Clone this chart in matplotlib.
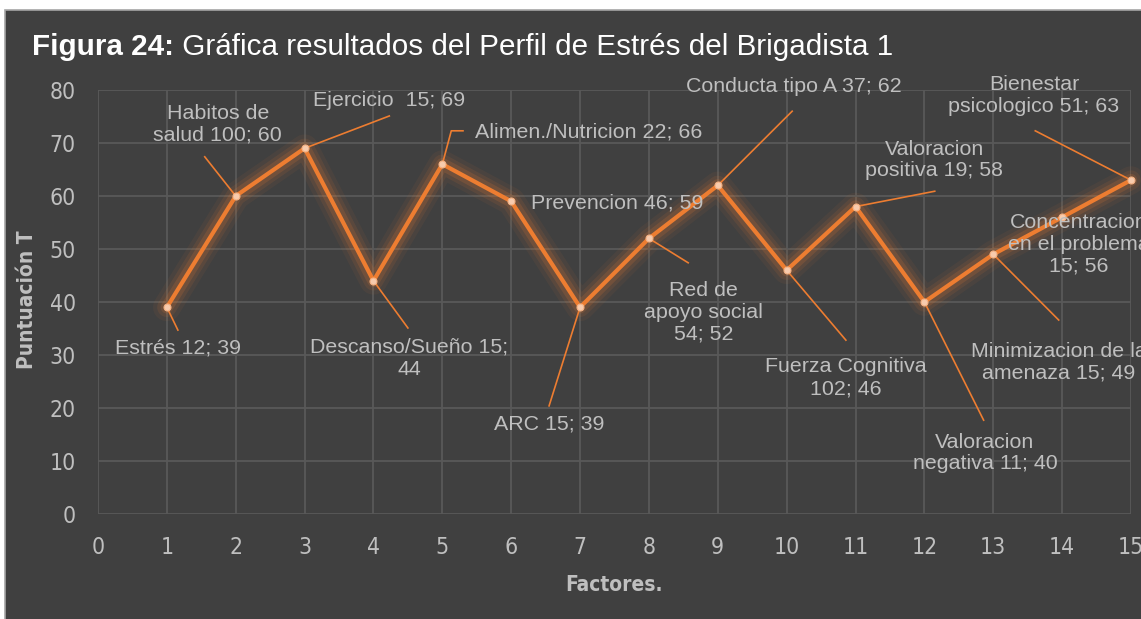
import matplotlib.pyplot as plt
from matplotlib.patches import Rectangle

# datos del perfil de estres
factores = list(range(1, 16))
puntuacion = [39, 60, 69, 44, 66, 59, 39, 52, 62, 46, 58, 40, 49, 56, 63]
etiquetas = [
    "Estrés 12; 39", "Habitos de\nsalud 100; 60", "Ejercicio  15; 69",
    "Descanso/Sueño 15;\n44", "Alimen./Nutricion 22; 66", "Prevencion 46; 59",
    "ARC 15; 39", "Red de\napoyo social\n54; 52", "Conducta tipo A 37; 62",
    "Fuerza Cognitiva\n102; 46", "Valoracion\npositiva 19; 58",
    "Valoracion\nnegativa 11; 40", "Minimizacion de la\namenaza 15; 49",
    "Concentracion\nen el problema\n15; 56", "Bienestar\npsicologico 51; 63",
]
x_ticks = list(range(0, 16))
y_ticks = list(range(0, 81, 10))

# posicion de cada etiqueta y de las lineas guia (layout)
pos_etiqueta = [(1.16, 31.3), (1.74, 73.6), (4.23, 78.1), (4.52, 29.4), (7.12, 72.1),
                (7.54, 58.7), (6.55, 17.0), (8.79, 38.1), (10.11, 80.6), (10.86, 25.7),
                (12.14, 66.8), (12.88, 11.5), (13.95, 28.7), (14.24, 50.9), (13.59, 78.9)]
guias = [[(1.16, 34.7)], [(1.55, 67.4)], [(4.23, 75.1)], [(4.50, 35.1)],
         [(5.13, 72.3), (5.30, 72.3)], [], [(6.55, 20.4)], [(8.57, 47.4)],
         [(10.08, 76.0)], [(10.86, 32.8)], [(12.15, 60.9)], [(12.86, 17.7)],
         [(13.95, 36.6)], [], [(13.61, 72.3)]]

BG = '#404040'
GRID = '#595959'
TXT = '#BFBFBF'
ORANGE = '#ED7D31'
NARROW = ['DejaVu Sans']
SANS = ['Liberation Sans', 'DejaVu Sans']

fig = plt.figure(figsize=(11.41, 6.19), dpi=100, facecolor='white')
fondo = Rectangle((5 / 1141, -0.1), 1.1, 1 - 10 / 619 + 0.1,
                  transform=fig.transFigure, facecolor=BG,
                  edgecolor='#A6A6A6', lw=1.2, zorder=-10)
fig.add_artist(fondo)
ax = fig.add_axes([98 / 1141, 1 - 514 / 619, 1033 / 1141, 424 / 619])
ax.set_facecolor(BG)
ax.set_xlim(0, 15)
ax.set_ylim(0, 80)
ax.set_xticks(x_ticks)
ax.set_yticks(y_ticks)
ax.grid(color=GRID, lw=1.3)
ax.set_axisbelow(True)
for s in ax.spines.values():
    s.set_visible(False)
ax.tick_params(length=0, pad=16, labelsize=16.5, labelcolor=TXT)
for lab in ax.get_xticklabels() + ax.get_yticklabels():
    lab.set_fontfamily(NARROW)
    lab.set_fontstretch('condensed')

# resplandor de la linea
for lw, a in [(20, 0.06), (14, 0.10), (9, 0.16)]:
    ax.plot(factores, puntuacion, color=ORANGE, lw=lw, alpha=a,
            solid_capstyle='round', solid_joinstyle='round', clip_on=False)
ax.plot(factores, puntuacion, color=ORANGE, lw=3, solid_joinstyle='round',
        clip_on=False, zorder=3)
ax.plot(factores, puntuacion, 'o', ms=5, mfc='#F8CBAD', mec='#F4B183', mew=0.8,
        clip_on=False, zorder=4)

for xi, yi, txt, pos, g in zip(factores, puntuacion, etiquetas, pos_etiqueta, guias):
    if g:
        gx = [xi] + [p[0] for p in g]
        gy = [yi] + [p[1] for p in g]
        ax.plot(gx, gy, color=ORANGE, lw=1.2, zorder=2, clip_on=False)
    ax.text(pos[0], pos[1], txt, ha='center', va='center', fontsize=15.4,
            color=TXT, family=SANS, linespacing=1.18, zorder=5, clip_on=False)

ax.set_ylabel('Puntuación T', fontsize=15, fontweight='bold', color=TXT,
              family=NARROW, fontstretch='condensed')
ax.yaxis.set_label_coords(-0.059, 0.505)
ax.set_xlabel('Factores.', fontsize=15, fontweight='bold', color=TXT,
              family=NARROW, fontstretch='condensed')
ax.xaxis.set_label_coords(0.4995, -0.144)

t1 = fig.text(32 / 1141, 1 - 55 / 619, 'Figura 24:', fontsize=21.35, fontweight='bold',
              color='white', family=SANS, va='baseline')
ax.annotate(' Gráfica resultados del Perfil de Estrés del Brigadista 1', xy=(1, 0),
            xycoords=t1, va='bottom', ha='left', fontsize=21.35, color='white',
            family=SANS, annotation_clip=False)

fig.savefig('out.png', dpi=100, facecolor='white')
